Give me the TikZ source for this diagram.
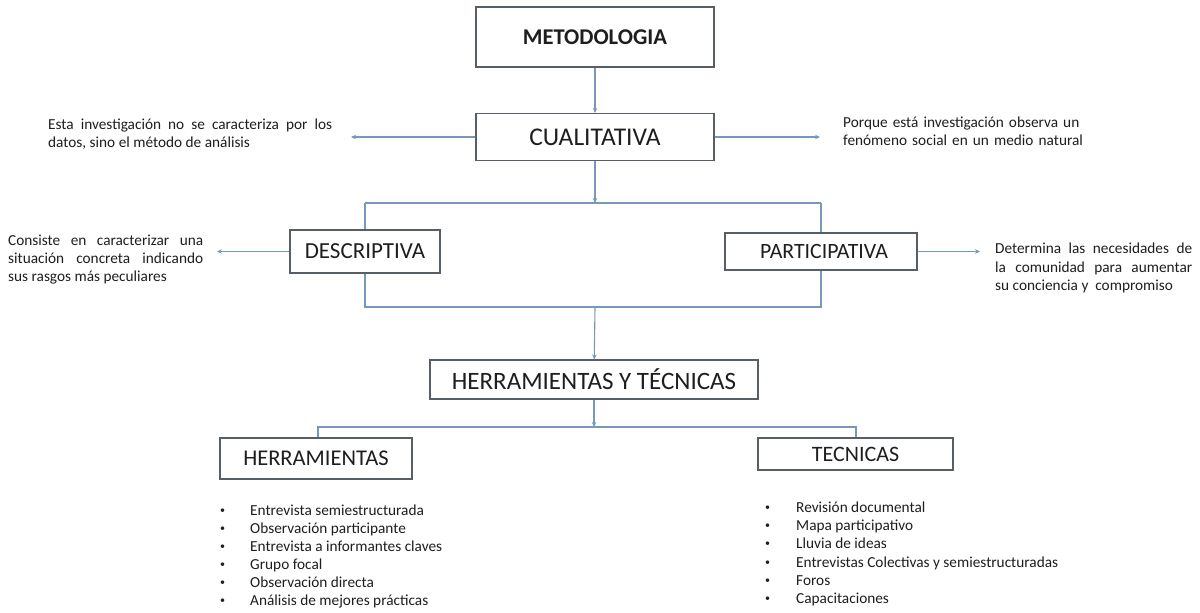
\documentclass[tikz,border=0pt]{standalone}
\usepackage{fontspec}
\setmainfont{Carlito}
\usetikzlibrary{arrows.meta}
\definecolor{boxc}{RGB}{88,94,102}
\definecolor{linec}{RGB}{120,152,185}
\definecolor{txt}{RGB}{30,30,30}
\newcommand{\smallbul}[1]{\llap{\raisebox{1.5pt}{\fontsize{10}{10}\selectfont •}\hspace{#1}}}
\begin{document}
\begin{tikzpicture}[x=1pt,y=-1pt,
  box/.style={draw=boxc, line width=1.1pt, fill=white, inner sep=0pt, text=txt,
              font=\fontsize{#1}{#1}\selectfont},
  box/.default=23,
  conn/.style={draw=linec, line width=1.1pt},
  arr/.style={conn, -{Stealth[length=5pt,width=4.5pt]}},
  side/.style={inner sep=0pt, text=txt, font=\fontsize{15.3}{18}\selectfont, anchor=north west},
  item/.style={inner sep=0pt, text=txt, font=\fontsize{15.3}{18}\selectfont, anchor=base west}]
\useasboundingbox (0,0) rectangle (1200,613);
\fill[white] (0,0) rectangle (1200,613);

% boxes
\node[box=22.5, minimum width=238pt, minimum height=60pt] (M) at (595,37) {\bfseries METODOLOGIA};
\node[box=25.5, minimum width=238pt, minimum height=47pt] (C) at (595,137) {CUALITATIVA\hspace{22pt}};
\node[box=23, minimum width=150pt, minimum height=43pt] (D) at (365,251.5) {DESCRIPTIVA};
\node[box=21.8, minimum width=192pt, minimum height=37pt] (P) at (821,251.5) {\hspace{6pt}PARTICIPATIVA};
\node[box=25, minimum width=328pt, minimum height=39pt] (H) at (594,379.5) {HERRAMIENTAS Y TÉCNICAS\hspace{36pt}};
\node[box=22.5, minimum width=192pt, minimum height=41pt] (HE) at (316,458.5) {HERRAMIENTAS};
\node[box=22, minimum width=195pt, minimum height=32pt] (TE) at (855.5,454) {TECNICAS};

% side texts
\node[side, text width=284pt, align=justify] (tl) at (48,119)
  {Esta investigación no se caracteriza por los\linebreak datos, sino el método de análisis};
\node[side, text width=240pt, align=left] (tr) at (843,117)
  {Porque está investigación observa un\\ fenómeno social en un medio natural};
\node[side, text width=195pt, align=justify] (td) at (8,235)
  {Consiste en caracterizar una\linebreak situación concreta indicando\linebreak sus rasgos más peculiares};
\node[side, text width=197pt, align=justify, font=\fontsize{15.3}{18.5}\selectfont] (tp) at (995,243)
  {Determina las necesidades de\linebreak la comunidad para aumentar\linebreak su conciencia y~ compromiso};

% coordinates
\coordinate (btop) at (595,203);
\coordinate (btl) at (365,203);
\coordinate (btr) at (821,203);
\coordinate (bbl) at (365,307);
\coordinate (bbr) at (821,307);
\coordinate (bbm) at (595,307);
\coordinate (lm) at (594,427);
\coordinate (ll) at (318,427);
\coordinate (lr) at (856,427);
\coordinate (ca) at (351,137);
\coordinate (cb) at (820,137);
\coordinate (da) at (217,251.5);
\coordinate (pa) at (980,251.5);

% connectors
\draw[arr] (M) -- (C);
\draw[arr] (C) -- (btop);
\draw[conn] (btl) -- (btr);
\draw[conn] (btl) -- (D.north);
\draw[conn] (D.south) -- (bbl) -- (bbr) -- (P.south);
\draw[conn] (P.north) -- (btr);
\draw[arr] (bbm) -- (H);
\draw[arr] (H) -- (lm);
\draw[conn] (ll |- HE.north) -- (ll) -- (lr) -- (lr |- TE.north);
\draw[arr] (C.west) -- (ca);
\draw[arr] (C.east) -- (cb);
\draw[arr] (D.west) -- (da);
\draw[arr] (P.east) -- (pa);

% lists
\node[item] (h1) at (250,515) {\smallbul{25pt}Entrevista semiestructurada};
\node[item] (h2) at (250,533) {\smallbul{25pt}Observación participante};
\node[item] (h3) at (250,551) {\smallbul{25pt}Entrevista a informantes claves};
\node[item] (h4) at (250,569) {\smallbul{25pt}Grupo focal};
\node[item] (h5) at (250,587) {\smallbul{25pt}Observación directa};
\node[item] (h6) at (250,605) {\smallbul{25pt}Análisis de mejores prácticas};

\node[item] (t1) at (796,512) {\smallbul{26pt}Revisión documental};
\node[item] (t2) at (796,530) {\smallbul{26pt}Mapa participativo};
\node[item] (t3) at (796,548) {\smallbul{26pt}Lluvia de ideas};
\node[item] (t4) at (796,567) {\smallbul{26pt}Entrevistas Colectivas y semiestructuradas};
\node[item] (t5) at (796,585) {\smallbul{26pt}Foros};
\node[item] (t6) at (796,603) {\smallbul{26pt}Capacitaciones};
\end{tikzpicture}
\end{document}
